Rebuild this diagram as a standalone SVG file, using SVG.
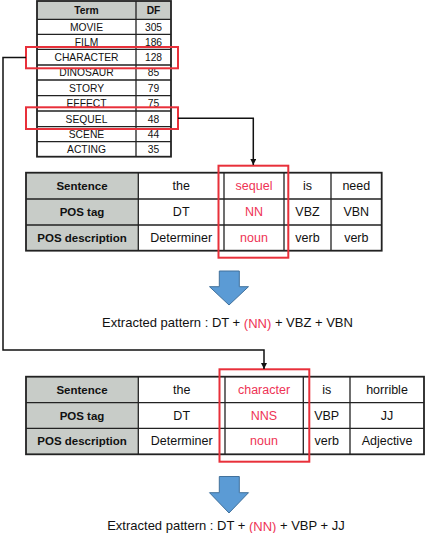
<svg xmlns="http://www.w3.org/2000/svg" width="426" height="533" viewBox="0 0 426 533">
<style>
text{font-family:"Liberation Sans",Arial,sans-serif;fill:#111;text-anchor:middle;dominant-baseline:central}
.t{font-size:10.3px}
.tb{font-size:10.3px;font-weight:bold}
.c{font-size:12.5px}
.h{font-size:11.5px;font-weight:bold}
.r{fill:#ee3355}
.p{font-size:13px}
.hd{fill:#c8ccc8}
.cell{fill:#fff}
.grid{stroke:#222;stroke-width:1.3;fill:none}
.outer{stroke:#222;stroke-width:1.8;fill:none}
.red{stroke:#e8303a;stroke-width:2;fill:none}
.con{stroke:#111;stroke-width:1.5;fill:none}
.blue{fill:#5b9bd5;stroke:#41719c;stroke-width:1}
</style>
<defs>
<marker id="ah" viewBox="0 0 10 10" refX="10" refY="5" markerWidth="6" markerHeight="6" markerUnits="userSpaceOnUse" orient="auto">
<path d="M0,0 L10,5 L0,10 z" fill="#111"/>
</marker>
</defs>

<g id="term-table">
<rect x="37" y="1" width="134" height="18.3" class="hd"/>
<rect x="37" y="19.3" width="134" height="137.4" class="cell"/>
<path class="grid" d="M136,1V156.7 M37,19.3H171 M37,34.3H171 M37,49.3H171 M37,65H171 M37,80H171 M37,95.7H171 M37,111H171 M37,126.7H171 M37,141.7H171"/>
<rect x="37" y="1" width="134" height="155.7" class="outer"/>
<text class="tb" x="86.5" y="10.5">Term</text><text class="tb" x="153.5" y="10.5">DF</text>
<text class="t" x="86.5" y="27">MOVIE</text><text class="t" x="153.5" y="27">305</text>
<text class="t" x="86.5" y="42">FILM</text><text class="t" x="153.5" y="42">186</text>
<text class="t" x="86.5" y="57.5">CHARACTER</text><text class="t" x="153.5" y="57.5">128</text>
<text class="t" x="86.5" y="72.7">DINOSAUR</text><text class="t" x="153.5" y="72.7">85</text>
<text class="t" x="86.5" y="88">STORY</text><text class="t" x="153.5" y="88">79</text>
<text class="t" x="86.5" y="103.4">EFFECT</text><text class="t" x="153.5" y="103.4">75</text>
<text class="t" x="86.5" y="119">SEQUEL</text><text class="t" x="153.5" y="119">48</text>
<text class="t" x="86.5" y="134.3">SCENE</text><text class="t" x="153.5" y="134.3">44</text>
<text class="t" x="86.5" y="149.3">ACTING</text><text class="t" x="153.5" y="149.3">35</text>
<rect x="26" y="47" width="152" height="21.3" class="red"/>
<rect x="26" y="107.3" width="152" height="21.7" class="red"/>
</g>

<g id="table1">
<rect x="26" y="172.7" width="112.3" height="78" class="hd"/>
<rect x="138.3" y="172.7" width="243.4" height="78" class="cell"/>
<path class="grid" d="M138.3,172.7V250.7 M224,172.7V250.7 M284,172.7V250.7 M331,172.7V250.7 M26,199H381.7 M26,225H381.7"/>
<rect x="26" y="172.7" width="355.7" height="78" class="outer"/>
<text class="h" x="82" y="186">Sentence</text>
<text class="h" x="82" y="212">POS tag</text>
<text class="h" x="82" y="238">POS description</text>
<text class="c" x="181.2" y="186">the</text><text class="c r" x="254" y="186">sequel</text><text class="c" x="307.5" y="186">is</text><text class="c" x="356.3" y="186">need</text>
<text class="c" x="181.2" y="212">DT</text><text class="c r" x="254" y="212">NN</text><text class="c" x="307.5" y="212">VBZ</text><text class="c" x="356.3" y="212">VBN</text>
<text class="c" x="181.2" y="238">Determiner</text><text class="c r" x="254" y="238">noun</text><text class="c" x="307.5" y="238">verb</text><text class="c" x="356.3" y="238">verb</text>
<rect x="218.5" y="165.7" width="69.8" height="92" class="red"/>
</g>

<g id="arrow1">
<path class="blue" d="M219.3,271 H239.3 V286.7 H248.5 L229,305 L209.5,286.7 H219.3 Z"/>
</g>
<g id="pattern1">
<text class="p" x="227.5" y="322.7">Extracted pattern : DT + <tspan class="r">(NN)</tspan> + VBZ + VBN</text>
</g>

<g id="table2">
<rect x="26" y="376.7" width="112.3" height="77.6" class="hd"/>
<rect x="138.3" y="376.7" width="285.7" height="77.6" class="cell"/>
<path class="grid" d="M138.3,376.7V454.3 M225,376.7V454.3 M303.3,376.7V454.3 M350,376.7V454.3 M26,402.7H424 M26,428.3H424"/>
<rect x="26" y="376.7" width="398" height="77.6" class="outer"/>
<text class="h" x="82" y="390">Sentence</text>
<text class="h" x="82" y="415.5">POS tag</text>
<text class="h" x="82" y="441.3">POS description</text>
<text class="c" x="181.7" y="390">the</text><text class="c r" x="264" y="390">character</text><text class="c" x="326.7" y="390">is</text><text class="c" x="387" y="390">horrible</text>
<text class="c" x="181.7" y="415.5">DT</text><text class="c r" x="264" y="415.5">NNS</text><text class="c" x="326.7" y="415.5">VBP</text><text class="c" x="387" y="415.5">JJ</text>
<text class="c" x="181.7" y="441.3">Determiner</text><text class="c r" x="264" y="441.3">noun</text><text class="c" x="326.7" y="441.3">verb</text><text class="c" x="387" y="441.3">Adjective</text>
<rect x="219.5" y="369.3" width="89.8" height="92.4" class="red"/>
</g>

<g id="arrow2">
<path class="blue" d="M219.3,476.5 H239.3 V492.7 H248.5 L229,513 L209.5,492.7 H219.3 Z"/>
</g>
<g id="pattern2">
<text class="p" x="226" y="525.7">Extracted pattern : DT + <tspan class="r">(NN)</tspan> + VBP + JJ</text>
</g>

<g id="connectors">
<path class="con" d="M178,118.3 H253.3 V165" marker-end="url(#ah)"/>
<path class="con" d="M26,57.5 H3 V350 H264 V369" marker-end="url(#ah)"/>
</g>
</svg>
